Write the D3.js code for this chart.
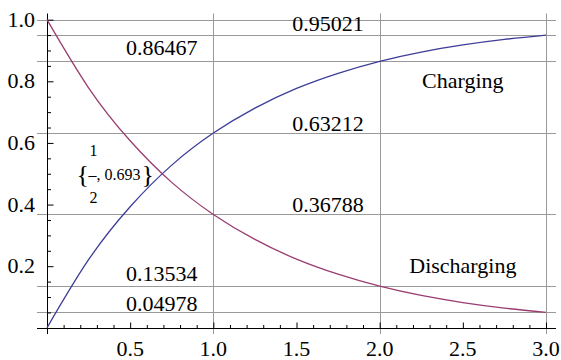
<!DOCTYPE html>
<html>
<head>
<meta charset="utf-8">
<script src="https://cdn.jsdelivr.net/npm/d3@7"></script>
</head>
<body style="margin:0">
<svg id="chart" width="561" height="360"></svg>
<script>
// sample times and curve values
const tValues = [0, 0.25, 0.5, 0.75, 1, 1.25, 1.5, 1.75, 2, 2.25, 2.5, 2.75, 3]
const discharging = [1, 0.779, 0.607, 0.472, 0.368, 0.287, 0.223, 0.174, 0.135, 0.105, 0.082, 0.064, 0.050]
const charging = [0, 0.221, 0.393, 0.528, 0.632, 0.713, 0.777, 0.826, 0.865, 0.895, 0.918, 0.936, 0.950]

const gridX = [1, 2, 3]
const gridY = [0.04978, 0.13534, 0.36788, 0.63212, 0.86467, 0.95021, 1.0]
const xTicks = [0.5, 1.0, 1.5, 2.0, 2.5, 3.0]
const yTicks = [0.2, 0.4, 0.6, 0.8, 1.0]

// text labels: [text, x, y] in plot coordinates
const valueLabels = [
  ["0.95021", 1.69, 0.985],
  ["0.86467", 0.69, 0.908],
  ["0.63212", 1.69, 0.66],
  ["0.36788", 1.69, 0.40],
  ["0.13534", 0.69, 0.174],
  ["0.04978", 0.69, 0.077],
  ["Charging", 2.5, 0.80],
  ["Discharging", 2.5, 0.20]
]

const face = "'Liberation Serif', 'Times New Roman', Tinos, FreeSerif, serif"
const svg = d3.select("#chart")

const x = d3.scaleLinear().domain([-0.06, 3.06]).range([37, 556])
const y = d3.scaleLinear().domain([-0.02, 1.02]).range([334, 13.5])

// grid
svg.append("g").selectAll("line")
  .data(gridX)
  .enter().append("line")
  .attr("x1", d => Math.round(x(d)) + 0.5)
  .attr("x2", d => Math.round(x(d)) + 0.5)
  .attr("y1", y(1.02))
  .attr("y2", y(-0.02))
  .attr("stroke", "#999")

svg.append("g").selectAll("line")
  .data(gridY)
  .enter().append("line")
  .attr("x1", x(-0.06))
  .attr("x2", x(3.06))
  .attr("y1", d => Math.round(y(d)) + 0.5)
  .attr("y2", d => Math.round(y(d)) + 0.5)
  .attr("stroke", "#999")

// axes, ticks pointing into the plot
const xAxis = svg.append("g")
  .attr("transform", `translate(0, ${Math.round(y(0)) + 0.5})`)
  .call(d3.axisTop(x).tickValues(d3.range(1, 31).map(i => i / 10)).tickSize(3).tickFormat(""))
xAxis.select(".domain").attr("d", `M${x(-0.06)},0H${x(3.06)}`).attr("stroke", "#000")
xAxis.selectAll(".tick line").attr("y2", d => Math.abs(d * 2 - Math.round(d * 2)) < 1e-6 ? -6 : -3.5)

const yAxis = svg.append("g")
  .attr("transform", `translate(${Math.round(x(0)) + 0.5}, 0)`)
  .call(d3.axisRight(y).tickValues(d3.range(1, 21).map(i => i / 20)).tickSize(3).tickFormat(""))
yAxis.select(".domain").attr("d", `M0,${y(1.02)}V${y(-0.02)}`).attr("stroke", "#000")
yAxis.selectAll(".tick line").attr("x2", d => Math.abs(d * 5 - Math.round(d * 5)) < 1e-6 ? 6 : 3.5)

// curves
const line = d3.line()
  .x((d, i) => x(tValues[i]))
  .y(d => y(d))
  .curve(d3.curveNatural)

svg.append("path")
  .datum(charging)
  .attr("d", line)
  .attr("fill", "none")
  .attr("stroke", "#3d3d99")
  .attr("stroke-width", 1.3)

svg.append("path")
  .datum(discharging)
  .attr("d", line)
  .attr("fill", "none")
  .attr("stroke", "#993d71")
  .attr("stroke-width", 1.3)

const txt = svg.append("g")

txt.selectAll(".xt")
  .data(xTicks)
  .enter().append("text")
  .attr("x", d => x(d))
  .attr("y", 356)
  .attr("font-size", 22)
  .style("font-family", face)
  .attr("text-anchor", "middle")
  .text(d => d.toFixed(1))

txt.selectAll(".yt")
  .data(yTicks)
  .enter().append("text")
  .attr("x", 35)
  .attr("y", d => y(d) + 7)
  .attr("font-size", 22)
  .style("font-family", face)
  .attr("text-anchor", "end")
  .text(d => d.toFixed(1))

txt.selectAll(".lab")
  .data(valueLabels)
  .enter().append("text")
  .attr("x", d => x(d[1]))
  .attr("y", d => y(d[2]) + 7)
  .attr("font-size", 22)
  .style("font-family", face)
  .attr("text-anchor", "middle")
  .text(d => d[0])

// the {1/2, 0.693} point label
const px = x(0.4), py = y(0.495)
const part = (s, dx, dy, size, anchor) => txt.append("text")
  .attr("x", px + dx).attr("y", py + dy)
  .attr("font-size", size)
  .style("font-family", face)
  .attr("text-anchor", anchor || "start")
  .text(s)
part("{", -37, 8, 26)
part("1", -20, -19, 16, "middle")
part("2", -20, 28, 16, "middle")
part("\u2013, 0.693", -25, 5, 16)
part("}", 28, 8, 26)
</script>
</body>
</html>
